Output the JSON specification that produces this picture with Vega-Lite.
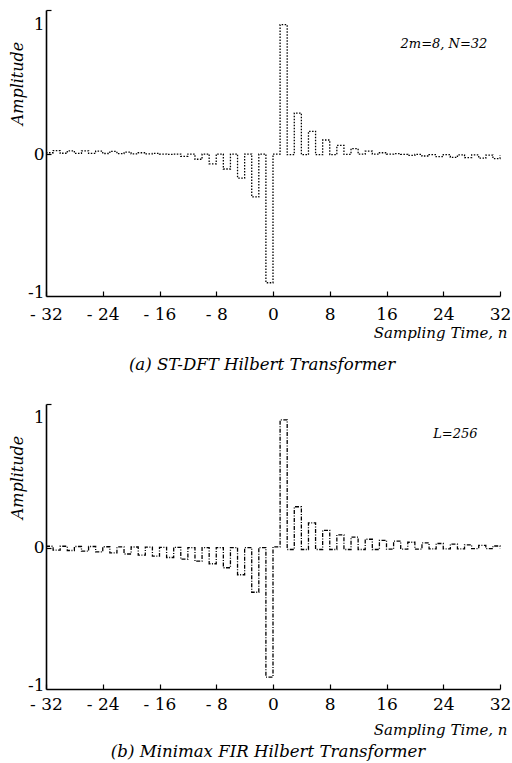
{
  "$schema": "https://vega.github.io/schema/vega-lite/v6.json",
  "background": "white",
  "padding": {"left": 8, "top": 9, "right": 2, "bottom": 5},
  "config": {
    "view": {"stroke": null},
    "font": "DejaVu Serif",
    "axis": {
      "grid": false,
      "domainColor": "black",
      "domainWidth": 1.6,
      "tickColor": "black",
      "tickWidth": 1.2,
      "tickSize": -5,
      "labelColor": "black",
      "labelFont": "DejaVu Serif",
      "labelFontSize": 17,
      "titleColor": "black",
      "titleFont": "DejaVu Serif",
      "titleFontStyle": "italic",
      "titleFontWeight": "normal"
    }
  },
  "datasets": {
    "a": [
      {"n": -32, "h": 0.01}, {"n": -31, "h": 0.027}, {"n": -30, "h": 0.006}, {"n": -29, "h": 0.025},
      {"n": -28, "h": 0.005}, {"n": -27, "h": 0.025}, {"n": -26, "h": 0.005}, {"n": -25, "h": 0.022},
      {"n": -24, "h": 0.004}, {"n": -23, "h": 0.02}, {"n": -22, "h": 0.003}, {"n": -21, "h": 0.015},
      {"n": -20, "h": 0.002}, {"n": -19, "h": 0.01}, {"n": -18, "h": 0.001}, {"n": -17, "h": 0.005},
      {"n": -16, "h": 0.0}, {"n": -15, "h": -0.002}, {"n": -14, "h": 0.0}, {"n": -13, "h": -0.018},
      {"n": -12, "h": 0.0}, {"n": -11, "h": -0.04}, {"n": -10, "h": 0.0}, {"n": -9, "h": -0.075},
      {"n": -8, "h": 0.0}, {"n": -7, "h": -0.115}, {"n": -6, "h": 0.0}, {"n": -5, "h": -0.185},
      {"n": -4, "h": 0.0}, {"n": -3, "h": -0.33}, {"n": -2, "h": 0.0}, {"n": -1, "h": -0.99},
      {"n": 0, "h": 0.0}, {"n": 1, "h": 0.995}, {"n": 2, "h": -0.005}, {"n": 3, "h": 0.315},
      {"n": 4, "h": -0.005}, {"n": 5, "h": 0.175}, {"n": 6, "h": -0.005}, {"n": 7, "h": 0.108},
      {"n": 8, "h": -0.005}, {"n": 9, "h": 0.066}, {"n": 10, "h": -0.003}, {"n": 11, "h": 0.042},
      {"n": 12, "h": 0.0}, {"n": 13, "h": 0.022}, {"n": 14, "h": 0.0}, {"n": 15, "h": 0.01},
      {"n": 16, "h": 0.0}, {"n": 17, "h": 0.003}, {"n": 18, "h": -0.002}, {"n": 19, "h": -0.01},
      {"n": 20, "h": -0.003}, {"n": 21, "h": -0.015}, {"n": 22, "h": -0.004}, {"n": 23, "h": -0.02},
      {"n": 24, "h": -0.005}, {"n": 25, "h": -0.025}, {"n": 26, "h": -0.006}, {"n": 27, "h": -0.028},
      {"n": 28, "h": -0.007}, {"n": 29, "h": -0.032}, {"n": 30, "h": -0.008}, {"n": 31, "h": -0.035},
      {"n": 32, "h": -0.01}
    ],
    "b": [
      {"n": -32, "h": 0.01}, {"n": -31, "h": -0.02}, {"n": -30, "h": 0.01}, {"n": -29, "h": -0.023},
      {"n": -28, "h": 0.008}, {"n": -27, "h": -0.028}, {"n": -26, "h": 0.008}, {"n": -25, "h": -0.033},
      {"n": -24, "h": 0.006}, {"n": -23, "h": -0.041}, {"n": -22, "h": 0.005}, {"n": -21, "h": -0.05},
      {"n": -20, "h": 0.004}, {"n": -19, "h": -0.059}, {"n": -18, "h": 0.003}, {"n": -17, "h": -0.067},
      {"n": -16, "h": 0.002}, {"n": -15, "h": -0.077}, {"n": -14, "h": 0.002}, {"n": -13, "h": -0.09},
      {"n": -12, "h": 0.0}, {"n": -11, "h": -0.105}, {"n": -10, "h": 0.0}, {"n": -9, "h": -0.125},
      {"n": -8, "h": 0.0}, {"n": -7, "h": -0.156}, {"n": -6, "h": 0.0}, {"n": -5, "h": -0.21},
      {"n": -4, "h": 0.0}, {"n": -3, "h": -0.345}, {"n": -2, "h": 0.0}, {"n": -1, "h": -1.0},
      {"n": 0, "h": 0.005}, {"n": 1, "h": 0.985}, {"n": 2, "h": -0.015}, {"n": 3, "h": 0.315},
      {"n": 4, "h": -0.015}, {"n": 5, "h": 0.19}, {"n": 6, "h": -0.015}, {"n": 7, "h": 0.133},
      {"n": 8, "h": -0.015}, {"n": 9, "h": 0.097}, {"n": 10, "h": -0.015}, {"n": 11, "h": 0.08},
      {"n": 12, "h": -0.015}, {"n": 13, "h": 0.064}, {"n": 14, "h": -0.015}, {"n": 15, "h": 0.056},
      {"n": 16, "h": -0.013}, {"n": 17, "h": 0.049}, {"n": 18, "h": -0.012}, {"n": 19, "h": 0.041},
      {"n": 20, "h": -0.012}, {"n": 21, "h": 0.036}, {"n": 22, "h": -0.01}, {"n": 23, "h": 0.031},
      {"n": 24, "h": -0.01}, {"n": 25, "h": 0.026}, {"n": 26, "h": -0.01}, {"n": 27, "h": 0.021},
      {"n": 28, "h": -0.008}, {"n": 29, "h": 0.016}, {"n": 30, "h": -0.008}, {"n": 31, "h": 0.012},
      {"n": 32, "h": -0.008}
    ]
  },
  "bounds": "flush",
  "spacing": 108,
  "vconcat": [
    {
      "width": 454,
      "height": 286,
      "title": {"text": "(a) ST-DFT Hilbert Transformer", "orient": "bottom", "anchor": "middle", "dx": -11, "offset": 17, "font": "DejaVu Serif", "fontStyle": "italic", "fontWeight": "normal", "fontSize": 16.6, "color": "black"},
      "layer": [
        {
          "data": {"name": "a"},
          "mark": {"type": "line", "interpolate": "step-after", "color": "black", "strokeWidth": 1.3, "strokeDash": [1.5, 1.5]},
          "encoding": {
            "x": {"field": "n", "type": "quantitative", "scale": {"domain": [-32, 32], "nice": false, "zero": false},
              "axis": {"values": [-32, -24, -16, -8, 0, 8, 16, 24, 32], "labelExpr": "datum.value < 0 ? '- ' + abs(datum.value) : '' + datum.value", "labelPadding": 15, "labelFlush": false,
                "title": "Sampling Time, n", "titleFontSize": 15, "titleAnchor": "end", "titleAlign": "right", "titleX": 461, "titleY": 29, "titleBaseline": "top"}},
            "y": {"field": "h", "type": "quantitative", "scale": {"domain": [-1.092, 1.108], "nice": false, "zero": false},
              "axis": {"values": [-1, 0, 1, 1.108],
                "labelExpr": "datum.value > 1.05 ? '' : datum.value == -1 ? '-1' : datum.value == 1 ? '1' : '0'",
                "tickOpacity": {"condition": {"test": "datum.value == 0 || datum.value > 1.05", "value": 1}, "value": 0},
                "labelBaseline": {"condition": {"test": "datum.value == -1", "value": "top"}, "value": "middle"},
                "labelPadding": 7, "title": "Amplitude", "titleFontSize": 16, "titleX": -21, "titleY": 73, "titleAlign": "center", "titleBaseline": "bottom", "titleAngle": -90}}
          }
        },
        {
          "data": {"values": [{}]},
          "mark": {"type": "text", "font": "DejaVu Serif", "fontStyle": "italic", "fontSize": 13, "color": "black"},
          "encoding": {
            "x": {"datum": 24.1, "type": "quantitative"},
            "y": {"datum": 0.846, "type": "quantitative"},
            "text": {"value": "2m=8, N=32"}
          }
        }
      ]
    },
    {
      "width": 454,
      "height": 285,
      "title": {"text": "(b) Minimax FIR Hilbert Transformer", "orient": "bottom", "anchor": "middle", "dx": -5, "offset": 7, "font": "DejaVu Serif", "fontStyle": "italic", "fontWeight": "normal", "fontSize": 16.6, "color": "black"},
      "layer": [
        {
          "data": {"name": "b"},
          "mark": {"type": "line", "interpolate": "step-after", "color": "black", "strokeWidth": 1.3, "strokeDash": [4, 1.5, 1, 1.5]},
          "encoding": {
            "x": {"field": "n", "type": "quantitative", "scale": {"domain": [-32, 32], "nice": false, "zero": false},
              "axis": {"values": [-32, -24, -16, -8, 0, 8, 16, 24, 32], "labelExpr": "datum.value < 0 ? '- ' + abs(datum.value) : '' + datum.value", "labelPadding": 12, "labelFlush": false,
                "title": "Sampling Time, n", "titleFontSize": 15, "titleAnchor": "end", "titleAlign": "right", "titleX": 461, "titleY": 33, "titleBaseline": "top"}},
            "y": {"field": "h", "type": "quantitative", "scale": {"domain": [-1.092, 1.108], "nice": false, "zero": false},
              "axis": {"values": [-1, 0, 1, 1.108],
                "labelExpr": "datum.value > 1.05 ? '' : datum.value == -1 ? '-1' : datum.value == 1 ? '1' : '0'",
                "tickOpacity": {"condition": {"test": "datum.value == 0 || datum.value > 1.05", "value": 1}, "value": 0},
                "labelBaseline": {"condition": {"test": "datum.value == -1", "value": "top"}, "value": "middle"},
                "labelPadding": 7, "title": "Amplitude", "titleFontSize": 16, "titleX": -21, "titleY": 73, "titleAlign": "center", "titleBaseline": "bottom", "titleAngle": -90}}
          }
        },
        {
          "data": {"values": [{}]},
          "mark": {"type": "text", "font": "DejaVu Serif", "fontStyle": "italic", "fontSize": 13, "color": "black"},
          "encoding": {
            "x": {"datum": 25.7, "type": "quantitative"},
            "y": {"datum": 0.875, "type": "quantitative"},
            "text": {"value": "L=256"}
          }
        }
      ]
    }
  ]
}
